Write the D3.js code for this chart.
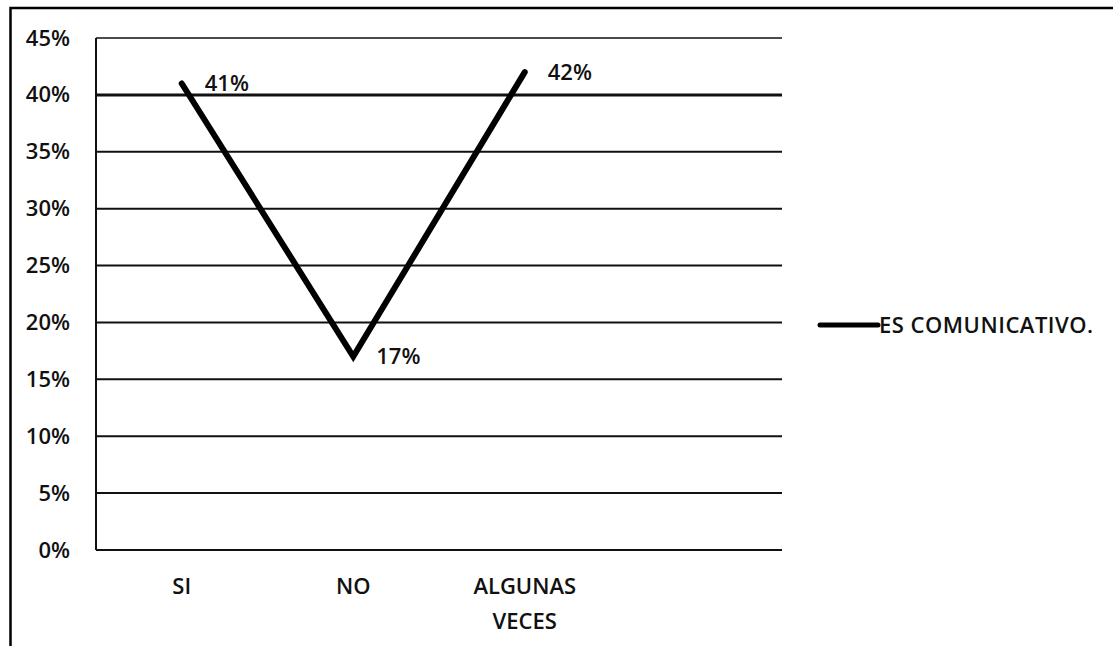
<!DOCTYPE html>
<html>
<head>
<meta charset="utf-8">
<script src="https://cdn.jsdelivr.net/npm/d3@7"></script>
<style>
  html, body { margin: 0; padding: 0; background: #fff; }
  svg { display: block; }
  text { font-family: "Open Sans", "Liberation Sans", sans-serif; font-weight: 600; fill: #111; }
</style>
</head>
<body>
<svg id="chart" width="1113" height="646"></svg>
<script>
// ---- data ----
const categories = ["SI", "NO", "ALGUNAS VECES", ""];
const seriesName = "ES COMUNICATIVO.";
const values = [41, 17, 42];
const valueLabels = ["41%", "17%", "42%"];
const yTicks = [0, 5, 10, 15, 20, 25, 30, 35, 40, 45];

// ---- layout ----
const svg = d3.select("#chart");
const plot = { left: 96, right: 782, top: 38, bottom: 550 };
const FS = 22;

// outer frame
svg.append("rect")
  .attr("x", 10.5).attr("y", 8)
  .attr("width", 1300).attr("height", 1000)
  .attr("fill", "none").attr("stroke", "#000").attr("stroke-width", 2.5);

const x = d3.scaleBand().domain(categories).range([plot.left, plot.right]);
const y = d3.scaleLinear().domain([0, 45]).range([plot.bottom, plot.top]);

// gridlines
svg.append("g").selectAll("line").data(yTicks).join("line")
  .attr("x1", plot.left).attr("x2", plot.right)
  .attr("y1", d => y(d)).attr("y2", d => y(d))
  .attr("stroke", "#111")
  .attr("stroke-width", d => d === 45 ? 1.5 : (d === 40 ? 3 : 2));

// y axis line
svg.append("line")
  .attr("x1", plot.left).attr("x2", plot.left)
  .attr("y1", plot.top).attr("y2", plot.bottom)
  .attr("stroke", "#111").attr("stroke-width", 2);

// y tick labels
const yAxis = d3.axisLeft(y).tickValues(yTicks).tickFormat(d => d + "%").tickSize(0).tickPadding(26);
const gy = svg.append("g").attr("transform", `translate(${plot.left},0)`).call(yAxis);
gy.select(".domain").remove();
gy.selectAll("text")
  .attr("font-size", FS)
  .style("font-family", "'Open Sans', sans-serif")
  .style("font-weight", 600)
  .attr("fill", "#111");

// x labels (wrapped)
const xg = svg.append("g");
categories.forEach(c => {
  if (!c) return;
  const words = c.split(" ");
  const cx = x(c) + x.bandwidth() / 2;
  const t = xg.append("text")
    .attr("x", cx)
    .attr("y", 586)
    .attr("text-anchor", "middle")
    .attr("font-size", FS);
  words.forEach((w, i) => {
    t.append("tspan")
      .attr("x", cx)
      .attr("dy", i === 0 ? "0.35em" : 35)
      .text(w);
  });
});

// line
const pts = values.map((v, i) => [x(categories[i]) + x.bandwidth() / 2, y(v)]);
svg.append("path")
  .attr("d", d3.line()(pts))
  .attr("fill", "none")
  .attr("stroke", "#000")
  .attr("stroke-width", 6)
  .attr("stroke-linejoin", "miter")
  .attr("stroke-linecap", "round");

// data labels
svg.append("g").selectAll("text").data(values).join("text")
  .attr("x", (d, i) => pts[i][0] + 23)
  .attr("y", (d, i) => pts[i][1])
  .attr("dy", "0.35em")
  .attr("font-size", FS)
  .text((d, i) => valueLabels[i]);

// legend
svg.append("line")
  .attr("x1", 820).attr("x2", 878)
  .attr("y1", 325).attr("y2", 325)
  .attr("stroke", "#000").attr("stroke-width", 5)
  .attr("stroke-linecap", "round");
svg.append("text")
  .attr("x", 879).attr("y", 325)
  .attr("dy", "0.35em")
  .attr("font-size", FS)
  .attr("letter-spacing", 0.5)
  .text(seriesName);
</script>
</body>
</html>
